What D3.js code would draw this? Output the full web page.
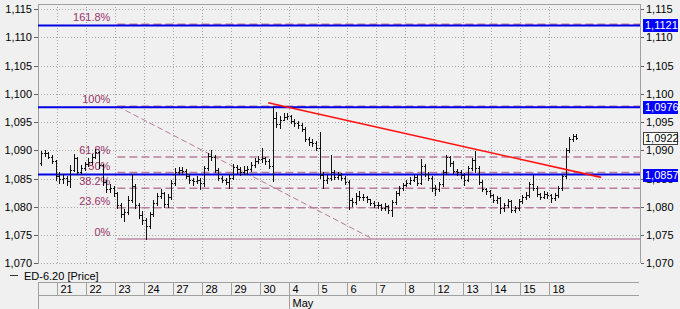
<!DOCTYPE html>
<html>
<head>
<meta charset="utf-8">
<script src="https://cdn.jsdelivr.net/npm/d3@7/dist/d3.min.js"></script>
<style>
    html, body { margin: 0; padding: 0; background: #f0f0f0; }
    svg { display: block; font-family: "Liberation Sans", Arial, sans-serif; font-size: 11px; }
</style>
</head>
<body>
<svg id="chart" width="680" height="309"></svg>
<script>
"use strict"

// time axis: the first (cut off) column is the 20th and has no label
let dayLabels = ["", "21", "22", "23", "24", "27", "28", "29", "30", "4", "5", "6", "7", "8", "12", "13", "14", "15", "18"];
let monthNames = ["", "May"];
let monthStartDay = [-1, 8];            // index into dayLabels (minus one)

let priceTicks = [1.070, 1.075, 1.080, 1.085, 1.090, 1.095, 1.100, 1.105, 1.110, 1.115];

// bars, 8 per day, the first day only has its last 5. open = previous close
let firstOpen = 1.0878;
let barHigh = [
    1.0899, 1.0901, 1.0897, 1.0892, 1.0883,
    1.0862, 1.0858, 1.0855, 1.0874, 1.0893, 1.0888, 1.0874, 1.0879,
    1.0886, 1.0893, 1.0902, 1.0899, 1.0876, 1.0847, 1.0840, 1.0837,
    1.0826, 1.0807, 1.0796, 1.0819, 1.0858, 1.0840, 1.0807, 1.0793,
    1.0780, 1.0791, 1.0812, 1.0824, 1.0832, 1.0826, 1.0823, 1.0847,
    1.0869, 1.0870, 1.0870, 1.0867, 1.0858, 1.0851, 1.0855, 1.0851,
    1.0872, 1.0895, 1.0901, 1.0892, 1.0869, 1.0855, 1.0851, 1.0858,
    1.0876, 1.0874, 1.0870, 1.0872, 1.0872, 1.0879, 1.0886, 1.0890,
    1.0904, 1.0888, 1.0885, 1.0978, 1.0968, 1.0961, 1.0966, 1.0966,
    1.0962, 1.0955, 1.0952, 1.0948, 1.0941, 1.0924, 1.0920, 1.0916,
    1.0932, 1.0862, 1.0856, 1.0892, 1.0865, 1.0862, 1.0860, 1.0855,
    1.0847, 1.0816, 1.0824, 1.0828, 1.0823, 1.0819, 1.0814, 1.0810,
    1.0809, 1.0805, 1.0807, 1.0803, 1.0812, 1.0828, 1.0837, 1.0842,
    1.0847, 1.0853, 1.0856, 1.0856, 1.0885, 1.0876, 1.0862, 1.0855,
    1.0839, 1.0844, 1.0865, 1.0892, 1.0890, 1.0881, 1.0867, 1.0865,
    1.0860, 1.0872, 1.0886, 1.0899, 1.0872, 1.0847, 1.0833, 1.0830,
    1.0823, 1.0819, 1.0817, 1.0807, 1.0814, 1.0812, 1.0801, 1.0814,
    1.0821, 1.0826, 1.0844, 1.0856, 1.0837, 1.0824, 1.0828, 1.0826,
    1.0823, 1.0824, 1.0837, 1.0858, 1.0904, 1.0924, 1.0929, 1.0929
];
let barLow = [
    1.0874, 1.0890, 1.0886, 1.0878, 1.0847,
    1.0842, 1.0842, 1.0839, 1.0835, 1.0863, 1.0858, 1.0858, 1.0865,
    1.0872, 1.0876, 1.0886, 1.0869, 1.0839, 1.0826, 1.0826, 1.0819,
    1.0798, 1.0782, 1.0775, 1.0787, 1.0809, 1.0798, 1.0780, 1.0770,
    1.0743, 1.0762, 1.0784, 1.0803, 1.0816, 1.0800, 1.0800, 1.0814,
    1.0839, 1.0858, 1.0858, 1.0851, 1.0842, 1.0839, 1.0842, 1.0832,
    1.0837, 1.0865, 1.0883, 1.0862, 1.0847, 1.0844, 1.0840, 1.0833,
    1.0849, 1.0860, 1.0856, 1.0858, 1.0858, 1.0863, 1.0870, 1.0878,
    1.0879, 1.0876, 1.0869, 1.0846, 1.0941, 1.0939, 1.0954, 1.0955,
    1.0948, 1.0943, 1.0939, 1.0934, 1.0916, 1.0909, 1.0908, 1.0901,
    1.0851, 1.0833, 1.0842, 1.0847, 1.0849, 1.0849, 1.0847, 1.0840,
    1.0796, 1.0801, 1.0805, 1.0812, 1.0812, 1.0809, 1.0803, 1.0800,
    1.0798, 1.0794, 1.0794, 1.0789, 1.0784, 1.0805, 1.0821, 1.0830,
    1.0837, 1.0840, 1.0846, 1.0839, 1.0840, 1.0855, 1.0847, 1.0828,
    1.0821, 1.0828, 1.0837, 1.0858, 1.0872, 1.0860, 1.0856, 1.0851,
    1.0839, 1.0846, 1.0865, 1.0862, 1.0840, 1.0828, 1.0823, 1.0817,
    1.0809, 1.0807, 1.0789, 1.0793, 1.0800, 1.0791, 1.0791, 1.0794,
    1.0807, 1.0814, 1.0817, 1.0830, 1.0819, 1.0814, 1.0816, 1.0816,
    1.0809, 1.0812, 1.0817, 1.0830, 1.0851, 1.0897, 1.0916, 1.0920
];
let barClose = [
    1.0895, 1.0895, 1.0888, 1.0881, 1.0855,
    1.0849, 1.0851, 1.0846, 1.0865, 1.0886, 1.0862, 1.0869, 1.0876,
    1.0879, 1.0888, 1.0897, 1.0874, 1.0844, 1.0832, 1.0833, 1.0824,
    1.0803, 1.0787, 1.0791, 1.0812, 1.0837, 1.0803, 1.0786, 1.0777,
    1.0766, 1.0787, 1.0807, 1.0819, 1.0824, 1.0805, 1.0817, 1.0842,
    1.0862, 1.0865, 1.0863, 1.0855, 1.0847, 1.0846, 1.0847, 1.0842,
    1.0869, 1.0890, 1.0888, 1.0865, 1.0851, 1.0847, 1.0844, 1.0851,
    1.0870, 1.0867, 1.0862, 1.0865, 1.0867, 1.0874, 1.0881, 1.0885,
    1.0886, 1.0881, 1.0872, 1.0957, 1.0947, 1.0954, 1.0959, 1.0961,
    1.0952, 1.0948, 1.0945, 1.0938, 1.0920, 1.0915, 1.0913, 1.0904,
    1.0856, 1.0847, 1.0851, 1.0862, 1.0853, 1.0856, 1.0851, 1.0844,
    1.0812, 1.0809, 1.0819, 1.0817, 1.0817, 1.0814, 1.0807, 1.0803,
    1.0803, 1.0798, 1.0801, 1.0794, 1.0809, 1.0824, 1.0833, 1.0839,
    1.0842, 1.0847, 1.0853, 1.0842, 1.0872, 1.0858, 1.0851, 1.0833,
    1.0832, 1.0840, 1.0862, 1.0888, 1.0878, 1.0863, 1.0862, 1.0856,
    1.0847, 1.0869, 1.0883, 1.0869, 1.0844, 1.0832, 1.0828, 1.0821,
    1.0812, 1.0816, 1.0798, 1.0803, 1.0810, 1.0794, 1.0798, 1.0810,
    1.0817, 1.0821, 1.0840, 1.0833, 1.0823, 1.0817, 1.0823, 1.0821,
    1.0816, 1.0821, 1.0833, 1.0855, 1.0901, 1.0920, 1.0925, 1.0922
];

// fibonacci retracement (low on the 24th, high on the 30th)
let fibLow = 1.0743;
let fibHigh = 1.0978;
let fibLevels = [0, 0.236, 0.382, 0.5, 0.618, 1, 1.618];
let fibLabels = ["0%", "23.6%", "38.2%", "50%", "61.8%", "100%", "161.8%"];
let fibStartDay = 2.07;
let fibEndDay = 10.9;

// horizontal price lines and the last price
let priceLines = [1.1121, 1.0976, 1.0857];
let lastPrice = 1.0922;

// resistance trendline (day position, price)
let trendDays = [7.28, 18.79];
let trendPrices = [1.0984, 1.0852];

let legendText = "ED-6.20 [Price]";

let barsPerDay = 8;
let firstDayBars = 5;

let svg = d3.select("#chart");

let plot = { left: 38, right: 640, top: 4, bottom: 263.3 };

let x = d3.scaleLinear().domain([-0.674, 20.135]).range([plot.left, plot.right]);
let y = d3.scaleLinear().domain([1.070, 1.115]).range([263.3, 9]);

let fmt = d3.format(".3f");
let fmt4 = d3.format(".4f");
let comma = (s) => s.replace(".", ",");

let gridColor = "#a6a6a6";
let fibColor = "#b87d9c";
let fibTextColor = "#993366";

drawGrid();
drawAxes();
drawFibonacci();
drawPriceLines();
drawBars();
drawTrendline();
drawPriceLabels();
drawTimeAxis();
drawLegend();

function drawGrid() {
    let g = svg.append("g").attr("shape-rendering", "crispEdges");

    // horizontal dotted gridlines
    g.selectAll(".hgrid")
        .data(priceTicks)
        .enter().append("line")
        .attr("x1", plot.left)
        .attr("x2", plot.right)
        .attr("y1", d => Math.round(y(d)) + 0.5)
        .attr("y2", d => Math.round(y(d)) + 0.5)
        .style("stroke", gridColor)
        .style("stroke-dasharray", "1,2");

    // vertical dotted gridlines at each day start
    let days = d3.range(0, dayLabels.length - 1);
    g.selectAll(".vgrid")
        .data(days)
        .enter().append("line")
        .attr("x1", d => Math.round(x(d)) + 0.5)
        .attr("x2", d => Math.round(x(d)) + 0.5)
        .attr("y1", plot.top)
        .attr("y2", plot.bottom)
        .style("stroke", gridColor)
        .style("stroke-dasharray", "1,2");

    // frame: top, left and right
    g.append("path")
        .attr("d", "M" + (plot.left + 0.5) + "," + plot.bottom +
            "V" + (plot.top + 0.5) + "H" + (plot.right + 0.5) + "V" + plot.bottom)
        .style("fill", "none")
        .style("stroke", "#a0a0a0");
}

function drawAxes() {
    let left = svg.append("g")
        .attr("transform", "translate(" + plot.left + ",0)")
        .call(d3.axisLeft(y).tickValues(priceTicks).tickSize(4).tickPadding(2)
            .tickFormat(d => comma(fmt(d))));

    let right = svg.append("g")
        .attr("transform", "translate(" + (plot.right + 1) + ",0)")
        .call(d3.axisRight(y).tickValues(priceTicks).tickSize(3).tickPadding(2)
            .tickFormat(d => comma(fmt(d))));

    for (let axis of [left, right]) {
        axis.select(".domain").remove();
        axis.selectAll("line").style("stroke", "#606060").attr("shape-rendering", "crispEdges");
        axis.selectAll("text")
            .style("font-family", "\"Liberation Sans\", Arial, sans-serif")
            .style("font-size", "11px")
            .style("fill", "#000");
    }
}

function drawFibonacci() {
    let g = svg.append("g");
    let range = fibHigh - fibLow;

    for (let i = 0; i < fibLevels.length; i++) {
        let level = fibLow + range * fibLevels[i];
        let yy = y(level);

        g.append("line")
            .attr("x1", x(fibStartDay))
            .attr("x2", plot.right)
            .attr("y1", yy)
            .attr("y2", yy)
            .style("stroke", fibLevels[i] === 0 ? "#a05a80" : fibColor)
            .style("stroke-width", fibLevels[i] === 0 ? 1 : 1.5)
            .style("stroke-dasharray", fibLevels[i] === 0 ? null : "8,4");

        g.append("text")
            .attr("x", x(fibStartDay) - 7)
            .attr("y", yy - 3)
            .style("text-anchor", "end")
            .style("font-size", "11px")
            .style("fill", fibTextColor)
            .text(fibLabels[i]);
    }

    // diagonal from the high to the 0% level
    g.append("line")
        .attr("x1", x(fibStartDay))
        .attr("y1", y(fibHigh))
        .attr("x2", x(fibEndDay))
        .attr("y2", y(fibLow))
        .style("stroke", fibColor)
        .style("stroke-width", 1)
        .style("stroke-dasharray", "6,3");
}

function drawPriceLines() {
    svg.append("g")
        .selectAll("line")
        .data(priceLines)
        .enter().append("line")
        .attr("x1", plot.left)
        .attr("x2", plot.right)
        .attr("y1", d => y(d))
        .attr("y2", d => y(d))
        .style("stroke", "#0000e6")
        .style("stroke-width", 2);
}

/* position of bar i in day units */
function barDay(i) {
    let slot = i + (barsPerDay - firstDayBars);
    return -1 + (slot + 0.5) / barsPerDay;
}

function drawBars() {
    let path = "";
    for (let i = 0; i < barClose.length; i++) {
        let cx = Math.round(x(barDay(i))) + 0.5;
        let open = i === 0 ? firstOpen : barClose[i - 1];
        let yh = Math.round(y(barHigh[i]));
        let yl = Math.round(y(barLow[i]));
        let yo = Math.round(y(open)) + 0.5;
        let yc = Math.round(y(barClose[i])) + 0.5;
        path += "M" + cx + "," + yh + "V" + (yl + 1);
        path += "M" + (cx - 1.5) + "," + yo + "H" + cx;
        path += "M" + cx + "," + yc + "H" + (cx + 1.5);
    }

    svg.append("path")
        .attr("d", path)
        .style("fill", "none")
        .style("stroke", "#111")
        .style("stroke-width", 1);
}

function drawTrendline() {
    svg.append("line")
        .attr("x1", x(trendDays[0]))
        .attr("y1", y(trendPrices[0]))
        .attr("x2", x(trendDays[1]))
        .attr("y2", y(trendPrices[1]))
        .style("stroke", "#ff1010")
        .style("stroke-width", 1.6);
}

function priceBox(price, fill, stroke, color) {
    let yy = y(price);
    let g = svg.append("g");
    g.append("rect")
        .attr("x", plot.right + 3.5)
        .attr("y", Math.round(yy - 6) + 0.5)
        .attr("width", 34)
        .attr("height", 12)
        .style("fill", fill)
        .style("stroke", stroke);
    g.append("text")
        .attr("x", plot.right + 5)
        .attr("y", yy + 4)
        .style("font-size", "11px")
        .style("fill", color)
        .text(comma(fmt4(price)));
}

function drawPriceLabels() {
    priceBox(lastPrice, "#ffffff", "#404040", "#000");
    for (let p of priceLines) {
        priceBox(p, "#0000ff", "#0000ff", "#ffffff");
    }
}

function drawTimeAxis() {
    let top = 282.5, mid = 295.5, bottom = 309;
    let g = svg.append("g").attr("shape-rendering", "crispEdges");
    let lineColor = "#a0a0a0";

    g.append("line").attr("x1", plot.left).attr("x2", plot.right - 1)
        .attr("y1", top).attr("y2", top).style("stroke", lineColor);
    g.append("line").attr("x1", plot.left).attr("x2", plot.right - 1)
        .attr("y1", mid).attr("y2", mid).style("stroke", lineColor);

    // day cells
    for (let k = -1; k < dayLabels.length - 1; k++) {
        let xs = k < 0 ? plot.left : x(k);
        xs = Math.round(xs) + 0.5;
        g.append("line").attr("x1", xs).attr("x2", xs)
            .attr("y1", top).attr("y2", mid).style("stroke", lineColor);
        g.append("text")
            .attr("x", xs + 3)
            .attr("y", top + 10.5)
            .style("font-size", "11px")
            .text(dayLabels[k + 1]);
    }

    // month cells
    for (let m = 0; m < monthNames.length; m++) {
        let xs = monthStartDay[m] < 0 ? plot.left : x(monthStartDay[m]);
        xs = Math.round(xs) + 0.5;
        g.append("line").attr("x1", xs).attr("x2", xs)
            .attr("y1", mid).attr("y2", bottom).style("stroke", lineColor);
        g.append("text")
            .attr("x", xs + 3)
            .attr("y", mid + 11)
            .style("font-size", "11px")
            .text(monthNames[m]);
    }
}

function drawLegend() {
    svg.append("line")
        .attr("x1", 10).attr("x2", 18)
        .attr("y1", 275.5).attr("y2", 275.5)
        .style("stroke", "#333");
    svg.append("text")
        .attr("x", 24)
        .attr("y", 279.5)
        .style("font-size", "11px")
        .text(legendText);
}
</script>
</body>
</html>
